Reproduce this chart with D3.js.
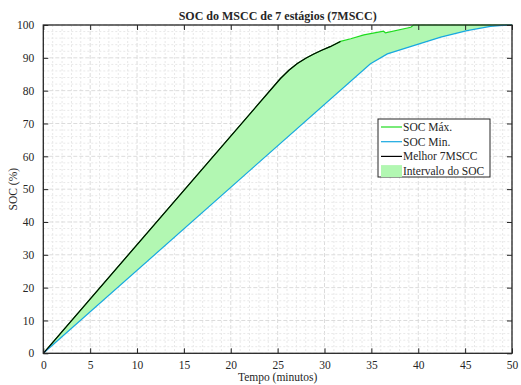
<!DOCTYPE html>
<html>
<head>
<meta charset="utf-8">
<script src="https://cdn.jsdelivr.net/npm/d3@7"></script>
<style>
  body { margin: 0; background: #fff; }
  text { font-family: "Liberation Serif", "Times New Roman", serif; fill: #262626; }
</style>
</head>
<body>
<svg id="chart" width="521" height="385"></svg>
<script>
// data
var tempoMax = [0, 25.3, 26.2, 27.1, 28.0, 28.8, 29.7, 30.6, 31.7, 32.8, 34.2, 36.3, 36.5, 39.2, 39.5, 40, 45, 50];
var socMax   = [0, 83.7, 86.2, 88.3, 89.9, 91.1, 92.3, 93.4, 95.0, 95.8, 97.0, 98.1, 97.6, 99.3, 100, 100, 100, 100];

var tempoMin = [0, 34.9, 36.7, 39.5, 42.4, 45.2, 47.7, 49, 50];
var socMin   = [0, 88.2, 91.2, 93.7, 96.3, 98.3, 99.6, 99.9, 100];

var tempoMelhor = [0, 25.3, 26.2, 27.1, 28.0, 28.8, 29.7, 30.6, 31.7];
var socMelhor   = [0, 83.7, 86.2, 88.3, 89.9, 91.1, 92.3, 93.4, 95.0];

var xTicks = [0, 5, 10, 15, 20, 25, 30, 35, 40, 45, 50];
var yTicks = [0, 10, 20, 30, 40, 50, 60, 70, 80, 90, 100];
var legendItems = ["SOC Máx.", "SOC Min.", "Melhor 7MSCC", "Intervalo do SOC"];

(function(){
var svg = d3.select("#chart");
var pL = 43.3, pR = 512, pT = 25, pB = 353.3;

var x = d3.scaleLinear().domain([0, 50]).range([pL, pR]);
var y = d3.scaleLinear().domain([0, 100]).range([pB, pT]);

function pts(ts, vs){
  return ts.map(function(t, i){ return [t, vs[i]]; });
}

// grid
var grid = svg.append("g");
d3.range(0, 51, 1).forEach(function(v){
  grid.append("line").attr("x1", x(v)).attr("x2", x(v)).attr("y1", pT).attr("y2", pB)
    .attr("stroke", v % 5 == 0 ? "#dcdcdc" : "#e8e8e8").attr("stroke-width", 1)
    .attr("stroke-dasharray", v % 5 == 0 ? "4,2" : "2,2");
});
d3.range(0, 101, 2).forEach(function(v){
  grid.append("line").attr("y1", y(v)).attr("y2", y(v)).attr("x1", pL).attr("x2", pR)
    .attr("stroke", v % 10 == 0 ? "#dcdcdc" : "#e8e8e8").attr("stroke-width", 1)
    .attr("stroke-dasharray", v % 10 == 0 ? "4,2" : "2,2");
});

var line = d3.line().x(function(d){ return x(d[0]); }).y(function(d){ return y(d[1]); });

// fill between max and min
var poly = pts(tempoMax, socMax).concat(pts(tempoMin, socMin).reverse());
svg.append("path").attr("d", line(poly) + "Z")
  .attr("fill", "#b2f7b2").attr("stroke", "none");

svg.append("path").attr("d", line(pts(tempoMax, socMax)))
  .attr("fill", "none").attr("stroke", "#1fdc1f").attr("stroke-width", 1.2);
svg.append("path").attr("d", line(pts(tempoMin, socMin)))
  .attr("fill", "none").attr("stroke", "#17a8e0").attr("stroke-width", 1.2);
svg.append("path").attr("d", line(pts(tempoMelhor, socMelhor)))
  .attr("fill", "none").attr("stroke", "#000").attr("stroke-width", 1.2);

// axes
var xAxis = svg.append("g").attr("transform", "translate(0," + pB + ")")
  .call(d3.axisBottom(x).tickValues(xTicks).tickSizeInner(-5).tickSizeOuter(0).tickPadding(8));
var xTop = svg.append("g").attr("transform", "translate(0," + pT + ")")
  .call(d3.axisTop(x).tickValues(xTicks).tickSizeInner(-5).tickSizeOuter(0).tickFormat(""));
var yAxis = svg.append("g").attr("transform", "translate(" + pL + ",0)")
  .call(d3.axisLeft(y).tickValues(yTicks).tickSizeInner(-5).tickSizeOuter(0).tickPadding(9));
var yRight = svg.append("g").attr("transform", "translate(" + pR + ",0)")
  .call(d3.axisRight(y).tickValues(yTicks).tickSizeInner(-5).tickSizeOuter(0).tickFormat(""));

[xAxis, xTop, yAxis, yRight].forEach(function(a){
  a.select(".domain").remove();
  a.selectAll("line").attr("stroke", "#262626");
  a.selectAll("text").style("font-family", "Liberation Serif, serif").style("font-size", "11.5px").attr("fill", "#262626");
});

svg.append("rect").attr("x", pL).attr("y", pT).attr("width", pR - pL).attr("height", pB - pT)
  .attr("fill", "none").attr("stroke", "#262626").attr("stroke-width", 1.3);

// titles
svg.append("text").attr("x", (pL + pR) / 2).attr("y", 20).attr("text-anchor", "middle")
  .style("font-size", "12px").style("font-weight", "bold").attr("fill", "#000")
  .text("SOC do MSCC de 7 estágios (7MSCC)");
svg.append("text").attr("x", (pL + pR) / 2).attr("y", 381).attr("text-anchor", "middle")
  .style("font-size", "11.5px").text("Tempo (minutos)");
svg.append("text").attr("transform", "translate(17," + ((pT + pB) / 2) + ") rotate(-90)")
  .attr("text-anchor", "middle").style("font-size", "11.5px").text("SOC (%)");

// legend
var lg = svg.append("g").attr("transform", "translate(378,119)");
lg.append("rect").attr("width", 112).attr("height", 58).attr("fill", "#fff")
  .attr("stroke", "#262626").attr("stroke-width", 1);
var colors = ["#1fdc1f", "#17a8e0", "#000"];
legendItems.forEach(function(name, i){
  var cy = 8 + i * 14.7;
  if(i < 3){
    lg.append("line").attr("x1", 3).attr("x2", 24).attr("y1", cy).attr("y2", cy)
      .attr("stroke", colors[i]).attr("stroke-width", 1.2);
  }else{
    lg.append("rect").attr("x", 3).attr("y", cy - 6).attr("width", 21).attr("height", 12).attr("fill", "#b2f7b2");
  }
  lg.append("text").attr("x", 25).attr("y", cy + 4).style("font-size", "11.5px").attr("fill", "#000").text(name);
});
})();
</script>
</body>
</html>
